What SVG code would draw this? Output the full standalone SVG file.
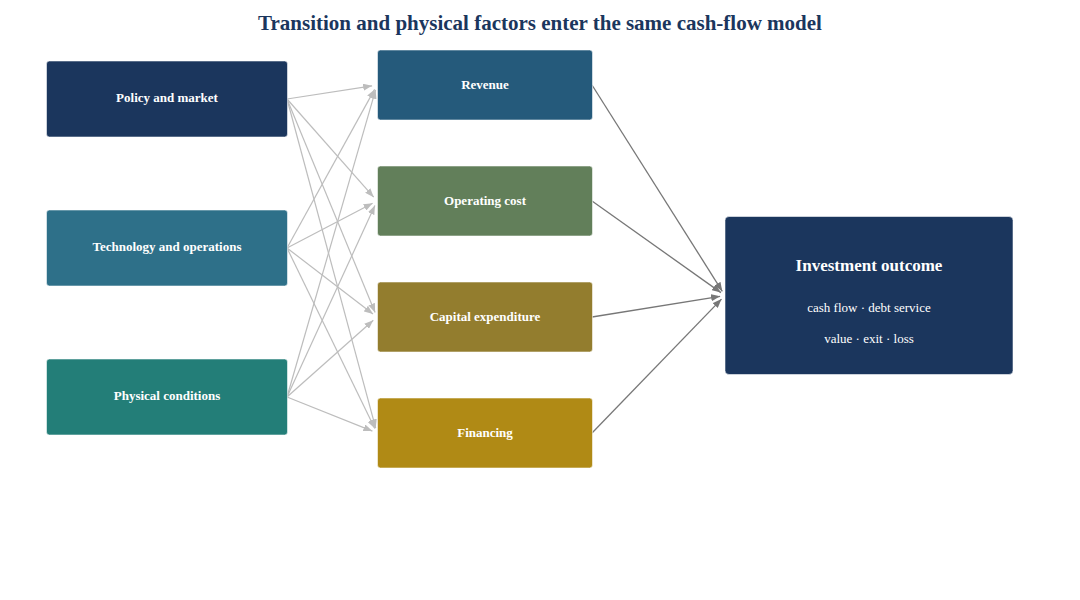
<svg xmlns="http://www.w3.org/2000/svg" width="1080" height="600" viewBox="0 0 1080 600">
<style>
.node rect{stroke:#ffffff;stroke-opacity:0.55;stroke-width:1}
.lbl{font-family:"Liberation Serif","Times New Roman",serif;font-weight:bold;font-size:13px;fill:#ffffff;text-anchor:middle}
.sub{font-family:"Liberation Serif","Times New Roman",serif;font-size:13px;fill:#ffffff;text-anchor:middle}
.title{font-family:"Liberation Serif","Times New Roman",serif;font-weight:bold;font-size:21px;fill:#1b365d;text-anchor:middle}
.e1{stroke:#bdbdbd;stroke-width:1.2;fill:none}
.e2{stroke:#777777;stroke-width:1.3;fill:none}
</style>
<defs>
<marker id="a1" viewBox="0 0 10 10" refX="10" refY="5" markerWidth="9" markerHeight="7" markerUnits="userSpaceOnUse" orient="auto" preserveAspectRatio="none"><path d="M0,0 L10,5 L0,10 z" fill="#bdbdbd"/></marker>
<marker id="a2" viewBox="0 0 10 10" refX="10" refY="5" markerWidth="9" markerHeight="7" markerUnits="userSpaceOnUse" orient="auto" preserveAspectRatio="none"><path d="M0,0 L10,5 L0,10 z" fill="#777777"/></marker>
</defs>
<rect width="1080" height="600" fill="#ffffff"/>
<text class="title" x="540" y="30">Transition and physical factors enter the same cash-flow model</text>
<g id="connectors">
<g marker-end="url(#a1)">
<path class="e1" d="M287,99 L372.1,85.8"/>
<path class="e1" d="M287,99 L373.7,197.2"/>
<path class="e1" d="M287,99 L375.1,312.4"/>
<path class="e1" d="M287,99 L375.7,428.2"/>
<path class="e1" d="M287,248 L374.6,89.4"/>
<path class="e1" d="M287,248 L372.6,203.3"/>
<path class="e1" d="M287,248 L373.0,314.0"/>
<path class="e1" d="M287,248 L374.8,428.5"/>
<path class="e1" d="M287,397 L375.6,89.8"/>
<path class="e1" d="M287,397 L374.9,205.5"/>
<path class="e1" d="M287,397 L373.3,320.3"/>
<path class="e1" d="M287,397 L372.4,431.1"/>
</g>
<g marker-end="url(#a2)">
<path class="e2" d="M592,85 L722.3,291.3"/>
<path class="e2" d="M592,201 L720.9,292.6"/>
<path class="e2" d="M592,317 L720.1,296.3"/>
<path class="e2" d="M592,433 L721.5,299.1"/>
</g>
</g>
<g id="policy" class="node"><rect x="46.5" y="61" width="241" height="76" rx="3" fill="#1b365d"/><text class="lbl" x="167" y="102">Policy and market</text></g>
<g id="technology" class="node"><rect x="46.5" y="210" width="241" height="76" rx="3" fill="#2e7089"/><text class="lbl" x="167" y="251">Technology and operations</text></g>
<g id="physical" class="node"><rect x="46.5" y="359" width="241" height="76" rx="3" fill="#237e78"/><text class="lbl" x="167" y="400">Physical conditions</text></g>
<g id="revenue" class="node"><rect x="377.5" y="50" width="215" height="70" rx="3" fill="#255a7b"/><text class="lbl" x="485" y="89">Revenue</text></g>
<g id="opex" class="node"><rect x="377.5" y="166" width="215" height="70" rx="3" fill="#627f5a"/><text class="lbl" x="485" y="205">Operating cost</text></g>
<g id="capex" class="node"><rect x="377.5" y="282" width="215" height="70" rx="3" fill="#937d2e"/><text class="lbl" x="485" y="321">Capital expenditure</text></g>
<g id="financing" class="node"><rect x="377.5" y="398" width="215" height="70" rx="3" fill="#b08a15"/><text class="lbl" x="485" y="437">Financing</text></g>
<g id="outcome" class="node"><rect x="725" y="216.5" width="288" height="158" rx="4" fill="#1b365d"/>
<text class="lbl" x="869" y="271" style="font-size:17px">Investment outcome</text>
<text class="sub" x="869" y="312">cash flow · debt service</text>
<text class="sub" x="869" y="343">value · exit · loss</text></g>
</svg>
